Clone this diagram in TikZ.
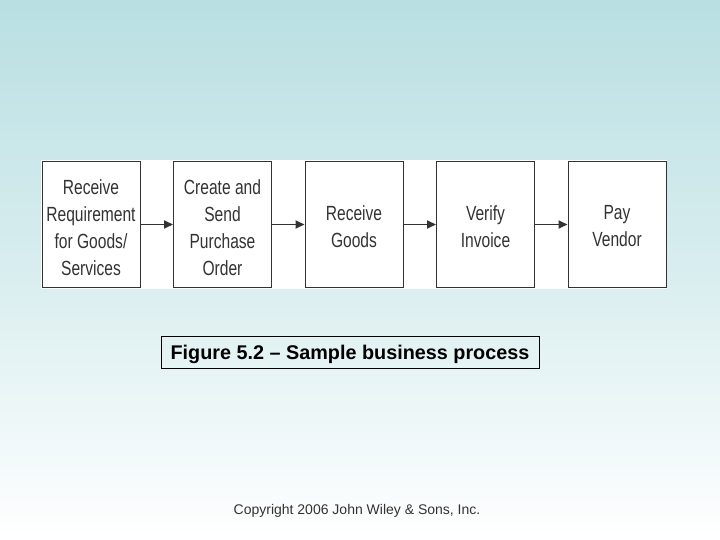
\documentclass[tikz,border=0pt]{standalone}
\usepackage{fontspec}
\setmainfont{Liberation Sans}
\newfontfamily\condfont[FakeStretch=0.76]{Liberation Sans}
\usetikzlibrary{arrows.meta}
\definecolor{bgtop}{HTML}{B9DFE2}
\definecolor{txtgray}{HTML}{333333}
\newcommand{\lowertxt}[2]{\raisebox{-#1}[\height][\depth]{\parbox{98pt}{\centering #2}}}
\tikzset{
  procbox/.style={draw=txtgray, line width=1pt, fill=white, minimum width=98pt, minimum height=125pt,
    inner sep=0pt, align=center, text=txtgray, font=\condfont\fontsize{20.5}{27}\selectfont},
  flow/.style={draw=txtgray, line width=1.8pt, -{Triangle[length=9pt,width=8pt]}}
}
\begin{document}
\begin{tikzpicture}[x=1pt,y=-1pt]
\useasboundingbox (0,0) rectangle (720,540);
\shade[top color=bgtop, bottom color=white, middle color=bgtop!55!white] (0,0) rectangle (720,540);
\fill[white] (41,160) rectangle (667,289);
\node[procbox] (b1) at (91,224.5) {\lowertxt{3pt}{Receive\\Requirement\\for Goods/\\Services}};
\node[procbox] (b2) at (222.5,224.5) {\lowertxt{3pt}{Create and\\Send\\Purchase\\Order}};
\node[procbox] (b3) at (354,224.5) {\lowertxt{2pt}{Receive\\Goods}};
\node[procbox] (b4) at (485.5,224.5) {\lowertxt{2pt}{Verify\\Invoice}};
\node[procbox] (b5) at (617,224.5) {\lowertxt{2pt}{Pay\\Vendor}};
\draw[flow] (b1) -- (b2);
\draw[flow] (b2) -- (b3);
\draw[flow] (b3) -- (b4);
\draw[flow] (b4) -- (b5);
\node[draw=black, line width=0.8pt, minimum width=378pt, minimum height=32pt, inner sep=0pt,
  font=\bfseries\fontsize{19.8}{22}\selectfont] (cap) at (350,352) {\raisebox{-2pt}[\height][\depth]{Figure 5.2 -- Sample business process}};
\node[text=txtgray, font=\fontsize{14}{16}\selectfont] (copy) at (357,511) {Copyright 2006 John Wiley \& Sons, Inc.};
\end{tikzpicture}
\end{document}
